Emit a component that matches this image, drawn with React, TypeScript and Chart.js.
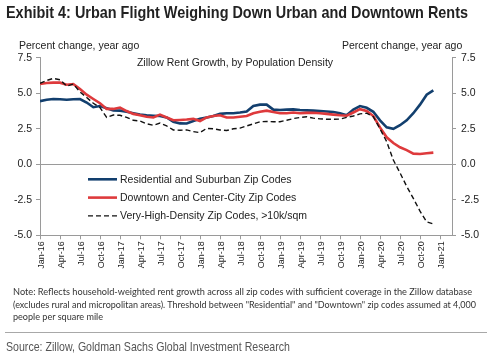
import React, { useEffect, useLayoutEffect, useRef } from 'react';
import { Chart, registerables } from 'chart.js';

Chart.register(...registerables);

// ---- Data (monthly, Jan-16 .. Dec-20) ----
const quarterLabels = [
  'Jan-16', 'Apr-16', 'Jul-16', 'Oct-16', 'Jan-17', 'Apr-17', 'Jul-17', 'Oct-17',
  'Jan-18', 'Apr-18', 'Jul-18', 'Oct-18', 'Jan-19', 'Apr-19', 'Jul-19', 'Oct-19',
  'Jan-20', 'Apr-20', 'Jul-20', 'Oct-20', 'Jan-21',
];

const residential = [
  4.45, 4.55, 4.6, 4.58, 4.55, 4.58, 4.6, 4.35, 4.02, 4.1, 3.95, 3.8,
  3.78, 3.7, 3.6, 3.5, 3.45, 3.42, 3.4, 3.3, 3.0, 2.88, 2.87, 3.05,
  3.2, 3.3, 3.4, 3.55, 3.6, 3.6, 3.65, 3.72, 4.1, 4.2, 4.2, 3.85,
  3.82, 3.85, 3.87, 3.82, 3.8, 3.78, 3.75, 3.72, 3.68, 3.6, 3.45, 3.85,
  4.1, 3.98, 3.7, 3.1, 2.6, 2.5, 2.75, 3.1, 3.6, 4.2, 4.9, 5.2,
];

const downtown = [
  5.65, 5.72, 5.75, 5.75, 5.6, 5.65, 5.3, 4.9, 4.6, 4.3, 3.9, 3.9,
  4.0, 3.75, 3.55, 3.45, 3.35, 3.3, 3.5, 3.3, 3.1, 3.12, 3.15, 3.2,
  3.05, 3.3, 3.4, 3.45, 3.3, 3.3, 3.35, 3.4, 3.6, 3.7, 3.78, 3.68,
  3.6, 3.6, 3.65, 3.6, 3.62, 3.63, 3.6, 3.55, 3.5, 3.45, 3.42, 3.65,
  3.88, 3.75, 3.4, 2.6, 1.9, 1.5, 1.2, 1.0, 0.75, 0.73, 0.78, 0.82,
];

const veryHighDensity = [
  5.7, 5.9, 6.05, 5.95, 5.5, 5.65, 5.1, 4.7, 4.3, 4.0, 3.3, 3.47,
  3.45, 3.3, 3.1, 3.05, 2.85, 2.75, 2.9, 2.7, 2.42, 2.4, 2.42, 2.3,
  2.23, 2.53, 2.5, 2.42, 2.38, 2.5, 2.55, 2.7, 2.85, 3.0, 3.02, 3.0,
  3.0, 3.1, 3.22, 3.3, 3.35, 3.25, 3.2, 3.17, 3.17, 3.18, 3.3, 3.4,
  3.55, 3.6, 3.35, 2.5, 1.6, 0.3, -0.6, -1.55, -2.4, -3.3, -4.05, -4.2,
];

const yTicks = [-5, -2.5, 0, 2.5, 5, 7.5];

const seriesNames = [
  'Residential and Suburban Zip Codes',
  'Downtown and Center-City Zip Codes',
  'Very-High-Density Zip Codes, >10k/sqm',
];

const BLUE = '#123f6e';
const RED = '#de3a3c';
const AXIS = '#9a9a9a';
const TEXT = '#222';
const CHART_FONT = '"Liberation Sans", Arial, sans-serif';

function FitText(props: {
  text: string; x: number; baseline: number; width: number; size: number;
  family: string; weight?: string; color: string; ascent: number;
}) {
  const ref = useRef<HTMLSpanElement>(null);
  useLayoutEffect(() => {
    const el = ref.current;
    if (!el) return;
    el.style.transform = 'none';
    const w = el.getBoundingClientRect().width;
    if (w > 0) el.style.transform = `scaleX(${props.width / w})`;
  }, [props.text, props.width]);
  const top = props.baseline - props.ascent * props.size;
  return (
    <span
      ref={ref}
      style={{
        position: 'absolute', left: props.x, top, fontSize: props.size,
        lineHeight: `${props.size}px`, fontFamily: props.family,
        fontWeight: props.weight || 'normal', color: props.color,
        whiteSpace: 'nowrap', transformOrigin: '0 0',
      }}
    >
      {props.text}
    </span>
  );
}

const overlayPlugin = {
  id: 'overlayText',
  afterDatasetsDraw(chart: any) {
    const ctx = chart.ctx as CanvasRenderingContext2D;
    const area = chart.chartArea;
    ctx.save();
    ctx.fillStyle = TEXT;
    ctx.font = `10.5px ${CHART_FONT}`;
    ctx.textBaseline = 'alphabetic';
    ctx.textAlign = 'left';
    ctx.fillText('Percent change, year ago', 19, 49);
    ctx.fillText('Percent change, year ago', 342, 49);
    ctx.textAlign = 'center';
    ctx.fillText('Zillow Rent Growth, by Population Density', 235, 66);

    // legend inside plot area
    const lx0 = area.left + 48;
    const lx1 = area.left + 77;
    chart.data.datasets.forEach((ds: any, i: number) => {
      const y = area.top + 121.5 + i * 18.3;
      ctx.beginPath();
      ctx.setLineDash(ds.borderDash || []);
      ctx.lineWidth = ds.borderWidth;
      ctx.strokeStyle = ds.borderColor;
      ctx.moveTo(lx0, y);
      ctx.lineTo(lx1, y);
      ctx.stroke();
      ctx.setLineDash([]);
      ctx.textAlign = 'left';
      ctx.textBaseline = 'middle';
      ctx.fillStyle = TEXT;
      ctx.fillText(ds.label, lx1 + 3, y + 0.5);
    });
    ctx.restore();
  },
};

function RentChart() {
  const canvasRef = useRef<HTMLCanvasElement>(null);
  useEffect(() => {
    const canvas = canvasRef.current;
    if (!canvas) return;
    const toXY = (arr: number[]) => arr.map((v, i) => ({ x: i, y: v }));
    const yTickSetup = (s: any) => { s.ticks = yTicks.map((v) => ({ value: v })); };
    const chart = new Chart(canvas, {
      type: 'line',
      data: {
        datasets: [
          { label: seriesNames[0], data: toXY(residential), borderColor: BLUE, borderWidth: 2.6, order: 2 },
          { label: seriesNames[1], data: toXY(downtown), borderColor: RED, borderWidth: 2.6, order: 1 },
          { label: seriesNames[2], data: toXY(veryHighDensity), borderColor: '#111', borderWidth: 1.4, borderDash: [5, 3], order: 0 },
        ],
      },
      options: {
        responsive: false,
        animation: false,
        devicePixelRatio: 1,
        layout: { padding: { top: 57.8, bottom: 72.7, left: 0, right: 0 } },
        plugins: { legend: { display: false }, tooltip: { enabled: false } },
        elements: { point: { radius: 0 }, line: { tension: 0, fill: false } },
        scales: {
          x: {
            type: 'linear', min: 0, max: 61.8,
            afterBuildTicks: (s: any) => { s.ticks = quarterLabels.map((_, i) => ({ value: i * 3 })); },
            afterFit: (s: any) => { s.height = 50; },
            grid: { drawOnChartArea: false, drawTicks: true, tickLength: 4, tickColor: AXIS, color: AXIS },
            border: { color: AXIS },
            ticks: {
              autoSkip: false, maxRotation: 90, minRotation: 90, labelOffset: 2, padding: 2,
              color: TEXT, font: { size: 9, family: CHART_FONT },
              callback: (v: any) => quarterLabels[Math.round(Number(v) / 3)] ?? '',
            },
          },
          y: {
            position: 'left', min: -5, max: 7.5,
            afterBuildTicks: yTickSetup,
            afterFit: (s: any) => { s.width = 40; },
            grid: {
              drawTicks: true, tickLength: 4, tickColor: AXIS,
              color: (c: any) => (c.tick && c.tick.value === 0 ? AXIS : 'rgba(0,0,0,0)'),
            },
            border: { color: AXIS },
            ticks: { padding: 4, color: TEXT, font: { size: 10.5, family: CHART_FONT }, callback: (v: any) => Number(v).toFixed(1) },
          },
          y2: {
            position: 'right', min: -5, max: 7.5,
            afterBuildTicks: yTickSetup,
            afterFit: (s: any) => { s.width = 48; },
            grid: { drawOnChartArea: false, drawTicks: true, tickLength: 4, tickColor: AXIS },
            border: { color: AXIS },
            ticks: { padding: 5, color: TEXT, font: { size: 10.5, family: CHART_FONT }, callback: (v: any) => Number(v).toFixed(1) },
          },
        },
      } as any,
      plugins: [overlayPlugin],
    });
    return () => chart.destroy();
  }, []);
  return <canvas ref={canvasRef} width={500} height={358} style={{ position: 'absolute', left: 0, top: 0, width: 500, height: 358 }} />;
}

export default function App() {
  const narrow = '"Liberation Sans Narrow", "Liberation Sans", Arial, sans-serif';
  return (
    <div style={{ position: 'absolute', left: 0, top: 0, width: 500, height: 358, background: '#fff', overflow: 'hidden' }}>
      <RentChart />
      <FitText text="Exhibit 4: Urban Flight Weighing Down Urban and Downtown Rents" x={6} baseline={18.5} width={462} size={17} family={narrow} weight="bold" color="#222" ascent={0.8465} />
      <FitText text="Note: Reflects household-weighted rent growth across all zip codes with sufficient coverage in the Zillow database" x={13} baseline={295} width={459} size={9} family="Lato, sans-serif" color="#333" ascent={0.887} />
      <FitText text={'(excludes rural and micropolitan areas). Threshold between "Residential" and "Downtown" zip codes assumed at 4,000'} x={13} baseline={307.5} width={463} size={9} family="Lato, sans-serif" color="#333" ascent={0.887} />
      <FitText text="people per square mile" x={13} baseline={319.5} width={90} size={9} family="Lato, sans-serif" color="#333" ascent={0.887} />
      <div style={{ position: 'absolute', left: 5, top: 332, width: 482, height: 1, background: '#a8a8a8' }} />
      <FitText text="Source: Zillow, Goldman Sachs Global Investment Research" x={6} baseline={351.5} width={284} size={13.5} family={narrow} color="#555" ascent={0.8465} />
    </div>
  );
}
